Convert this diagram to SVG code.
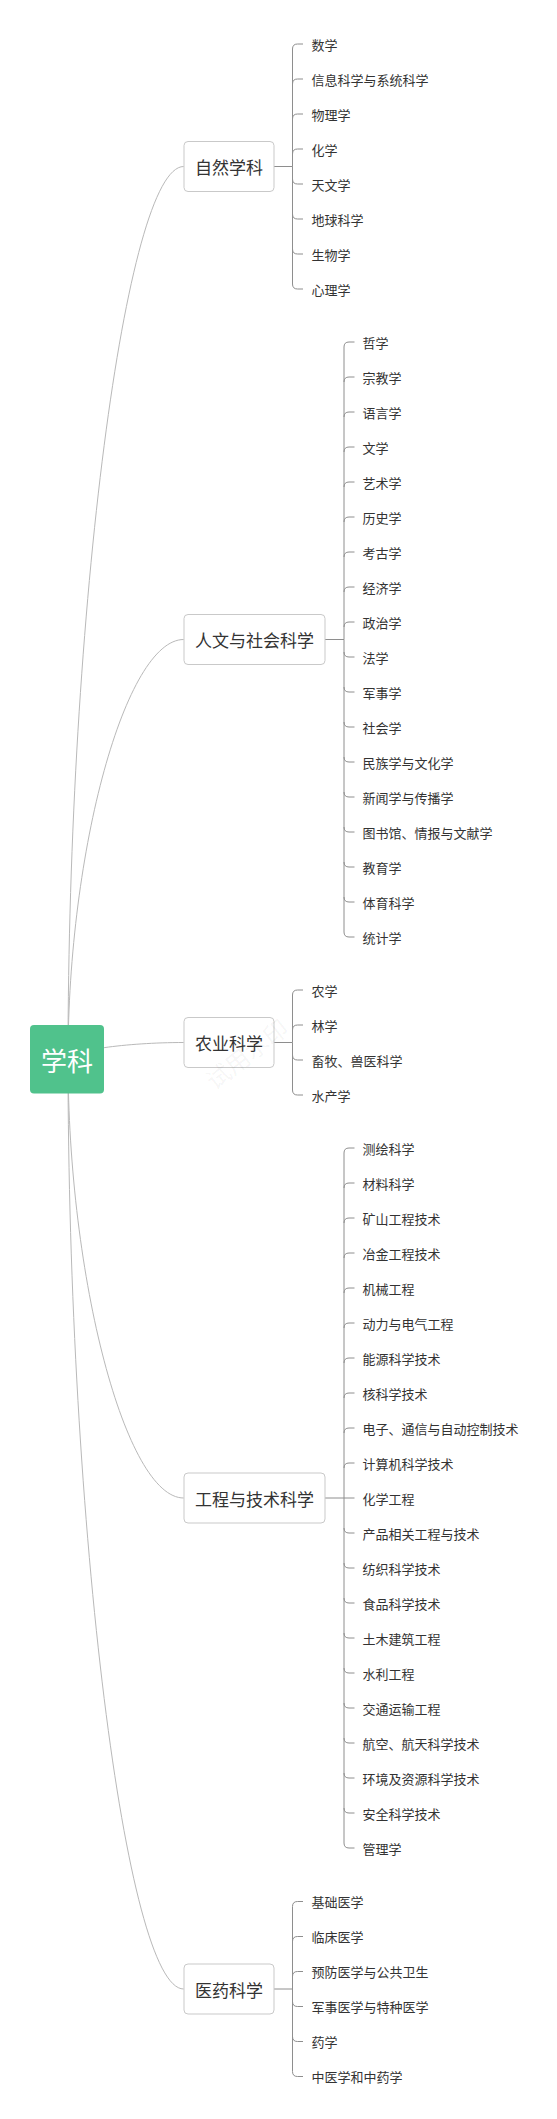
<svg xmlns="http://www.w3.org/2000/svg" width="557" height="2119" viewBox="0 0 557 2119">
<style>
text{font-family:"Noto Sans CJK SC","Noto Sans",sans-serif;fill:#333;dominant-baseline:central}
.leaf{font-size:13px}
.topic{font-size:17px;text-anchor:middle}
.box{fill:#fff;stroke:#c9c9c9;stroke-width:1}
.main{fill:none;stroke:#b9b9b9;stroke-width:1}
.br{fill:none;stroke:#8e8e8e;stroke-width:1}
.wm{font-size:24px;fill:#000;fill-opacity:0.05;text-anchor:middle}
</style>
<rect width="557" height="2119" fill="#fff"/>
<g id="connectors">
<path class="main" d="M68 1059C68 612.75 125.85 166.5 183.7 166.5"/>
<path class="main" d="M68 1059C68 849.25 125.85 639.5 183.7 639.5"/>
<path class="main" d="M68 1059C68 1050.75 125.85 1042.5 183.7 1042.5"/>
<path class="main" d="M68 1059C68 1278.5 125.85 1498 183.7 1498"/>
<path class="main" d="M68 1059C68 1524 125.85 1989 183.7 1989"/>
<g class="br">
<path d="M274 166.5H292.5V49Q292.5 44 297.5 44H303M292.5 84Q292.5 79 297.5 79H303M292.5 119Q292.5 114 297.5 114H303M292.5 154Q292.5 149 297.5 149H303M292.5 166.5V179Q292.5 184 297.5 184H303M292.5 214Q292.5 219 297.5 219H303M292.5 249Q292.5 254 297.5 254H303M292.5 166.5V284Q292.5 289 297.5 289H303"/>
<path d="M325 639.5H344V347Q344 342 349 342H354.5M344 382Q344 377 349 377H354.5M344 417Q344 412 349 412H354.5M344 452Q344 447 349 447H354.5M344 487Q344 482 349 482H354.5M344 522Q344 517 349 517H354.5M344 557Q344 552 349 552H354.5M344 592Q344 587 349 587H354.5M344 627Q344 622 349 622H354.5M344 639.5V932Q344 937 349 937H354.5M344 652Q344 657 349 657H354.5M344 687Q344 692 349 692H354.5M344 722Q344 727 349 727H354.5M344 757Q344 762 349 762H354.5M344 792Q344 797 349 797H354.5M344 827Q344 832 349 832H354.5M344 862Q344 867 349 867H354.5M344 897Q344 902 349 902H354.5"/>
<path d="M274 1042.5H292.5V995Q292.5 990 297.5 990H303M292.5 1030Q292.5 1025 297.5 1025H303M292.5 1042.5V1090Q292.5 1095 297.5 1095H303M292.5 1055Q292.5 1060 297.5 1060H303"/>
<path d="M325 1498H354.5M344 1498V1153Q344 1148 349 1148H354.5M344 1188Q344 1183 349 1183H354.5M344 1223Q344 1218 349 1218H354.5M344 1258Q344 1253 349 1253H354.5M344 1293Q344 1288 349 1288H354.5M344 1328Q344 1323 349 1323H354.5M344 1363Q344 1358 349 1358H354.5M344 1398Q344 1393 349 1393H354.5M344 1433Q344 1428 349 1428H354.5M344 1468Q344 1463 349 1463H354.5M344 1498V1843Q344 1848 349 1848H354.5M344 1528Q344 1533 349 1533H354.5M344 1563Q344 1568 349 1568H354.5M344 1598Q344 1603 349 1603H354.5M344 1633Q344 1638 349 1638H354.5M344 1668Q344 1673 349 1673H354.5M344 1703Q344 1708 349 1708H354.5M344 1738Q344 1743 349 1743H354.5M344 1773Q344 1778 349 1778H354.5M344 1808Q344 1813 349 1813H354.5"/>
<path d="M274 1989H292.5V1906.5Q292.5 1901.5 297.5 1901.5H303M292.5 1941.5Q292.5 1936.5 297.5 1936.5H303M292.5 1976.5Q292.5 1971.5 297.5 1971.5H303M292.5 1989V2071.5Q292.5 2076.5 297.5 2076.5H303M292.5 2001.5Q292.5 2006.5 297.5 2006.5H303M292.5 2036.5Q292.5 2041.5 297.5 2041.5H303"/>
</g>
</g>
<g id="root">
<rect x="30" y="1025" width="74" height="68.5" rx="4" fill="#50c28c"/>
<text x="67" y="1059.5" style="font-size:26px;fill:#fff;text-anchor:middle">学科</text>
</g>
<g id="ziran">
<rect class="box" x="184" y="141.5" width="90" height="50" rx="4"/>
<text class="topic" x="229" y="166.5">自然学科</text>
</g>
<g id="ziran-leaves">
<text class="leaf" x="311.5" y="44">数学</text>
<text class="leaf" x="311.5" y="79">信息科学与系统科学</text>
<text class="leaf" x="311.5" y="114">物理学</text>
<text class="leaf" x="311.5" y="149">化学</text>
<text class="leaf" x="311.5" y="184">天文学</text>
<text class="leaf" x="311.5" y="219">地球科学</text>
<text class="leaf" x="311.5" y="254">生物学</text>
<text class="leaf" x="311.5" y="289">心理学</text>
</g>
<g id="renwen">
<rect class="box" x="184" y="614.5" width="141" height="50" rx="4"/>
<text class="topic" x="254.5" y="639.5">人文与社会科学</text>
</g>
<g id="renwen-leaves">
<text class="leaf" x="362.5" y="342">哲学</text>
<text class="leaf" x="362.5" y="377">宗教学</text>
<text class="leaf" x="362.5" y="412">语言学</text>
<text class="leaf" x="362.5" y="447">文学</text>
<text class="leaf" x="362.5" y="482">艺术学</text>
<text class="leaf" x="362.5" y="517">历史学</text>
<text class="leaf" x="362.5" y="552">考古学</text>
<text class="leaf" x="362.5" y="587">经济学</text>
<text class="leaf" x="362.5" y="622">政治学</text>
<text class="leaf" x="362.5" y="657">法学</text>
<text class="leaf" x="362.5" y="692">军事学</text>
<text class="leaf" x="362.5" y="727">社会学</text>
<text class="leaf" x="362.5" y="762">民族学与文化学</text>
<text class="leaf" x="362.5" y="797">新闻学与传播学</text>
<text class="leaf" x="362.5" y="832">图书馆、情报与文献学</text>
<text class="leaf" x="362.5" y="867">教育学</text>
<text class="leaf" x="362.5" y="902">体育科学</text>
<text class="leaf" x="362.5" y="937">统计学</text>
</g>
<g id="nongye">
<rect class="box" x="184" y="1017.5" width="90" height="50" rx="4"/>
<text class="topic" x="229" y="1042.5">农业科学</text>
</g>
<g id="nongye-leaves">
<text class="leaf" x="311.5" y="990">农学</text>
<text class="leaf" x="311.5" y="1025">林学</text>
<text class="leaf" x="311.5" y="1060">畜牧、兽医科学</text>
<text class="leaf" x="311.5" y="1095">水产学</text>
</g>
<g id="gongcheng">
<rect class="box" x="184" y="1473" width="141" height="50" rx="4"/>
<text class="topic" x="254.5" y="1498">工程与技术科学</text>
</g>
<g id="gongcheng-leaves">
<text class="leaf" x="362.5" y="1148">测绘科学</text>
<text class="leaf" x="362.5" y="1183">材料科学</text>
<text class="leaf" x="362.5" y="1218">矿山工程技术</text>
<text class="leaf" x="362.5" y="1253">冶金工程技术</text>
<text class="leaf" x="362.5" y="1288">机械工程</text>
<text class="leaf" x="362.5" y="1323">动力与电气工程</text>
<text class="leaf" x="362.5" y="1358">能源科学技术</text>
<text class="leaf" x="362.5" y="1393">核科学技术</text>
<text class="leaf" x="362.5" y="1428">电子、通信与自动控制技术</text>
<text class="leaf" x="362.5" y="1463">计算机科学技术</text>
<text class="leaf" x="362.5" y="1498">化学工程</text>
<text class="leaf" x="362.5" y="1533">产品相关工程与技术</text>
<text class="leaf" x="362.5" y="1568">纺织科学技术</text>
<text class="leaf" x="362.5" y="1603">食品科学技术</text>
<text class="leaf" x="362.5" y="1638">土木建筑工程</text>
<text class="leaf" x="362.5" y="1673">水利工程</text>
<text class="leaf" x="362.5" y="1708">交通运输工程</text>
<text class="leaf" x="362.5" y="1743">航空、航天科学技术</text>
<text class="leaf" x="362.5" y="1778">环境及资源科学技术</text>
<text class="leaf" x="362.5" y="1813">安全科学技术</text>
<text class="leaf" x="362.5" y="1848">管理学</text>
</g>
<g id="yiyao">
<rect class="box" x="184" y="1964" width="90" height="50" rx="4"/>
<text class="topic" x="229" y="1989">医药科学</text>
</g>
<g id="yiyao-leaves">
<text class="leaf" x="311.5" y="1901.5">基础医学</text>
<text class="leaf" x="311.5" y="1936.5">临床医学</text>
<text class="leaf" x="311.5" y="1971.5">预防医学与公共卫生</text>
<text class="leaf" x="311.5" y="2006.5">军事医学与特种医学</text>
<text class="leaf" x="311.5" y="2041.5">药学</text>
<text class="leaf" x="311.5" y="2076.5">中医学和中药学</text>
</g>
<g id="watermark">
<text class="wm" x="246" y="1053" transform="rotate(-38 246 1053)">试用水印</text>
</g>
</svg>
